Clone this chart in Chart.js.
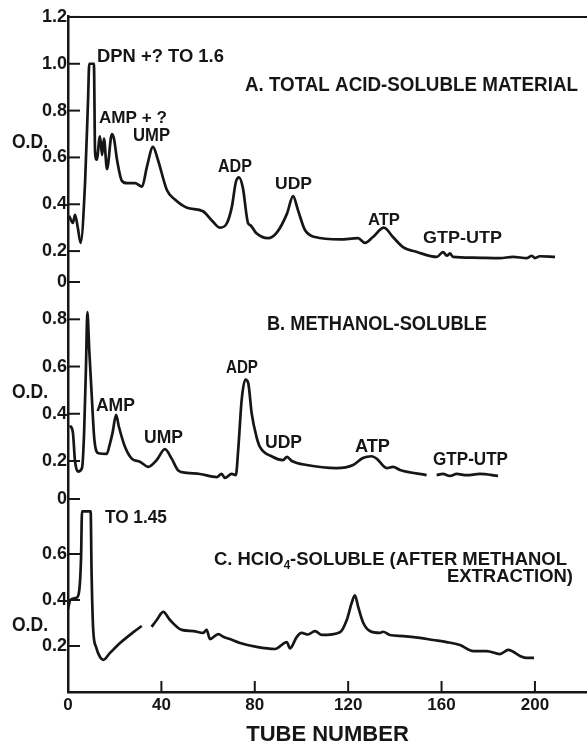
<!DOCTYPE html>
<html>
<head>
<meta charset="utf-8">
<title>Chromatogram - tube number</title>
<script src="https://cdn.jsdelivr.net/npm/chart.js@4.4.1/dist/chart.umd.min.js"></script>
<style>
  html, body { margin: 0; padding: 0; background: #fff; }
  canvas { display: block; }
</style>
</head>
<body>
<canvas id="chart" width="587" height="746"></canvas>
<script>
// Tick labels
const xTicks = [0, 40, 80, 120, 160, 200];
const yTicksA = ['0', '0.2', '0.4', '0.6', '0.8', '1.0', '1.2'];
const yTicksB = ['0', '0.2', '0.4', '0.6', '0.8'];
const yTicksC = ['0.2', '0.4', '0.6'];

// A. Total acid-soluble material (O.D. per tube, peak cut at 1.0 on the drawing)
const tubeA = [0.5, 2.1, 3.0, 4.2, 5.4, 7.3, 8.6, 9.1, 11.1, 11.6, 12.3, 13.7, 14.6, 15.4, 16.7, 18.8, 19.7,
  21.0, 23.1, 25.3, 28.7, 31.7, 33.8, 36.4, 38.5, 42.4, 45.8, 51.0, 57.8, 61.7, 65.1, 68.1, 70.2, 71.9,
  73.2, 74.9, 77.1, 78.2, 80.6, 85.7, 89.5, 93.8, 96.4, 98.5, 101.5, 105.8, 116.5, 124.2, 127.2, 130.6,
  135.3, 139.2, 143.5, 149.5, 158.0, 160.6, 162.3, 163.6, 164.9, 173.4, 185.0, 190.6, 196.6, 198.7,
  200.0, 202.1, 208.6];
const odA = [0.35, 0.32, 0.355, 0.30, 0.235, 0.49, 0.85, 1.0, 1.0, 0.62, 0.59, 0.69, 0.61, 0.68, 0.55, 0.70, 0.68,
  0.59, 0.50, 0.49, 0.49, 0.475, 0.56, 0.645, 0.59, 0.46, 0.42, 0.385, 0.37, 0.33, 0.30, 0.32, 0.39, 0.495,
  0.515, 0.47, 0.32, 0.31, 0.277, 0.255, 0.28, 0.36, 0.435, 0.375, 0.29, 0.26, 0.25, 0.255, 0.235, 0.26,
  0.30, 0.26, 0.217, 0.196, 0.175, 0.196, 0.18, 0.19, 0.175, 0.172, 0.17, 0.175, 0.17, 0.18,
  0.17, 0.178, 0.175];

// B. Methanol-soluble (null = break in the trace)
const tubeB = [0.9, 2.1, 3.0, 4.3, 6.0, 6.9, 7.7, 8.3, 9.1, 10.1, 11.3, 13.0, 16.6, 18.0, 19.1, 20.6, 21.8,
  24.4, 27.3, 30.8, 34.4, 38.0, 41.5, 44.4, 47.2, 50.8, 56.5, 63.7, 65.8, 67.2, 70.1, 71.9, 72.9, 74.4,
  76.0, 77.2, 78.7, 80.8, 82.2, 87.8, 92.1, 93.8, 95.9, 102.2, 115.1, 122.1, 126.3, 130.1, 132.2, 136.5,
  139.2, 142.2, 153.6, 155.7, 157.9, 160.6, 163.6, 166.5, 170.8, 176.4, 184.2];
const odB = [0.35, 0.32, 0.20, 0.155, 0.17, 0.32, 0.60, 0.83, 0.67, 0.49, 0.29, 0.233, 0.23, 0.275, 0.32, 0.395, 0.345,
  0.26, 0.21, 0.197, 0.175, 0.204, 0.25, 0.21, 0.16, 0.15, 0.145, 0.132, 0.145, 0.128, 0.145, 0.14, 0.247, 0.46,
  0.545, 0.53, 0.40, 0.30, 0.26, 0.217, 0.204, 0.217, 0.20, 0.183, 0.17, 0.183, 0.213, 0.22, 0.21, 0.17,
  0.175, 0.162, 0.14, null, 0.14, 0.145, 0.137, 0.145, 0.14, 0.145, 0.137];

// C. HClO4-soluble after methanol extraction (peak cut, "to 1.45")
const tubeC = [0, 1.0, 3.7, 4.8, 5.6, 6.0, 9.7, 10.1, 10.8, 12.0, 13.7, 15.1, 18.0, 22.3, 28.0, 31.6, 33.7,
  35.8, 38.0, 40.8, 43.7, 48.7, 53.7, 57.9, 59.4, 60.8, 64.4, 66.5, 69.4, 73.7, 80.8, 88.7, 93.7, 95.1,
  98.0, 100.1, 102.8, 105.8, 108.7, 116.5, 119.4, 121.5, 122.9, 124.3, 126.5, 129.3, 133.6, 134.9, 137.9,
  143.6, 150.7, 156.4, 162.2, 167.9, 173.6, 179.3, 185.0, 188.6, 193.6, 196.4, 199.6];
const odC = [0.36, 0.40, 0.41, 0.44, 0.587, 0.785, 0.785, 0.517, 0.27, 0.196, 0.152, 0.14, 0.17, 0.213, 0.26, 0.287, null,
  0.283, 0.313, 0.348, 0.313, 0.27, 0.265, 0.257, 0.27, 0.23, 0.252, 0.24, 0.23, 0.213, 0.196, 0.187, 0.217, 0.19,
  0.24, 0.257, 0.25, 0.265, 0.248, 0.26, 0.313, 0.387, 0.42, 0.37, 0.30, 0.265, 0.257, 0.262, 0.248,
  0.243, 0.235, 0.226, 0.217, 0.204, 0.178, 0.178, 0.165, 0.183, 0.157, 0.148, 0.148];

const INK = '#161616';
const FONT = '"Liberation Sans", Arial, sans-serif';

// peak names and panel titles, placed in data units of their own panel
const notes = [
  { axis: 'yA', x: 39.6, y: 1.029, w: 127, size: 19, runs: ['DPN +? TO 1.6'] },
  { axis: 'yA', x: 147.1, y: 0.909, w: 333, size: 20, runs: ['A. TOTAL ACID-SOLUBLE MATERIAL'] },
  { axis: 'yA', x: 27.8, y: 0.768, w: 68, size: 17, runs: ['AMP + ?'] },
  { axis: 'yA', x: 35.8, y: 0.691, w: 37, size: 18, runs: ['UMP'] },
  { axis: 'yA', x: 71.5, y: 0.559, w: 34, size: 18, runs: ['ADP'] },
  { axis: 'yA', x: 96.6, y: 0.486, w: 37, size: 17, runs: ['UDP'] },
  { axis: 'yA', x: 135.3, y: 0.332, w: 32, size: 17, runs: ['ATP'] },
  { axis: 'yA', x: 169.0, y: 0.256, w: 79, size: 17, runs: ['GTP-UTP'] },
  { axis: 'yB', x: 132.3, y: 0.776, w: 220, size: 20, runs: ['B. METHANOL-SOLUBLE'] },
  { axis: 'yB', x: 74.5, y: 0.594, w: 32, size: 18, runs: ['ADP'] },
  { axis: 'yB', x: 20.3, y: 0.433, w: 39, size: 18, runs: ['AMP'] },
  { axis: 'yB', x: 40.9, y: 0.297, w: 39, size: 18, runs: ['UMP'] },
  { axis: 'yB', x: 92.3, y: 0.276, w: 37, size: 18, runs: ['UDP'] },
  { axis: 'yB', x: 130.4, y: 0.259, w: 35, size: 18, runs: ['ATP'] },
  { axis: 'yB', x: 172.4, y: 0.204, w: 75, size: 18, runs: ['GTP-UTP'] },
  { axis: 'yC', x: 29.1, y: 0.757, w: 62, size: 18, runs: ['TO 1.45'] },
  { axis: 'yC', x: 138.1, y: 0.574, w: 353, size: 19, runs: ['C. HClO', ['4'], '-SOLUBLE (AFTER METHANOL'] },
  { axis: 'yC', x: 189.3, y: 0.500, w: 126, size: 19, runs: ['EXTRACTION)'] }
];
// horizontal "O.D." labels, one per panel
const odTitles = [{ axis: 'yA', y: 0.666 }, { axis: 'yB', y: 0.492 }, { axis: 'yC', y: 0.291 }];

function points(tubes, od) {
  return tubes.map((t, i) => ({ x: t, y: od[i] }));
}

function curve(label, tubes, od, axis) {
  return {
    label: label,
    data: points(tubes, od),
    yAxisID: axis,
    borderColor: INK,
    borderWidth: 2.7,
    pointRadius: 0,
    fill: false,
    spanGaps: false,
    cubicInterpolationMode: 'monotone'
  };
}

// one panel axis; the "0" label sits on the lower edge of its panel
function yAxis(labels, min, max, weight, stackWeight, topLine) {
  return {
    type: 'linear',
    position: 'left',
    stack: 'od',
    stackWeight: stackWeight,
    weight: weight,
    min: min,
    max: max,
    afterFit: s => { s.width = 68; },
    afterBuildTicks: s => {
      s.ticks = labels.map(l => ({ value: l === '0' ? s.min : parseFloat(l) }));
    },
    ticks: {
      autoSkip: false,
      padding: 1,
      color: INK,
      font: { family: FONT, size: 18, weight: 'bold' },
      callback: function (v) { return v === this.min ? '0' : v.toFixed(1); }
    },
    grid: {
      drawTicks: false,
      drawOnChartArea: !!topLine,
      lineWidth: 2,
      color: c => (topLine && c.tick && c.tick.value === topLine) ? INK : 'rgba(0,0,0,0)'
    },
    border: { display: true, color: INK, width: 2.5 }
  };
}

// draw a line of text squeezed to the width it has on the original
function drawRuns(ctx, runs, cx, cy, w, size) {
  const main = 'bold ' + size + 'px ' + FONT;
  const sub = 'bold ' + Math.round(size * 0.65) + 'px ' + FONT;
  let natural = 0;
  runs.forEach(r => {
    ctx.font = Array.isArray(r) ? sub : main;
    natural += ctx.measureText(Array.isArray(r) ? r[0] : r).width;
  });
  ctx.save();
  ctx.translate(cx - w / 2, cy);
  ctx.scale(w / natural, 1);
  let x = 0;
  runs.forEach(r => {
    const isSub = Array.isArray(r);
    const t = isSub ? r[0] : r;
    ctx.font = isSub ? sub : main;
    ctx.fillText(t, x, isSub ? size * 0.3 : 0);
    x += ctx.measureText(t).width;
  });
  ctx.restore();
}

const figurePlugin = {
  id: 'figure',
  afterDraw(chart) {
    const ctx = chart.ctx;
    const sx = chart.scales.x;
    ctx.save();
    ctx.strokeStyle = INK;
    ctx.fillStyle = INK;
    ctx.lineWidth = 2;

    // tick marks point into the plot
    ['yA', 'yB', 'yC'].forEach(id => {
      const s = chart.scales[id];
      s.ticks.forEach(t => {
        const y = s.getPixelForValue(t.value);
        ctx.beginPath(); ctx.moveTo(s.right, y); ctx.lineTo(s.right + 12, y); ctx.stroke();
      });
    });
    sx.ticks.forEach(t => {
      if (t.value === 0) return;
      const x = sx.getPixelForValue(t.value);
      ctx.beginPath(); ctx.moveTo(x, sx.top); ctx.lineTo(x, sx.top - 11); ctx.stroke();
    });

    ctx.textAlign = 'left';
    ctx.textBaseline = 'middle';
    notes.forEach(n => {
      const s = chart.scales[n.axis];
      drawRuns(ctx, n.runs, sx.getPixelForValue(n.x), s.getPixelForValue(n.y), n.w, n.size);
    });
    odTitles.forEach(o => {
      const s = chart.scales[o.axis];
      drawRuns(ctx, ['O.D.'], s.left + 30, s.getPixelForValue(o.y), 36, 21);
    });
    ctx.restore();
  }
};

new Chart(document.getElementById('chart'), {
  type: 'line',
  data: {
    datasets: [
      curve('A. Total acid-soluble material', tubeA, odA, 'yA'),
      curve('B. Methanol-soluble', tubeB, odB, 'yB'),
      curve('C. HClO4-soluble', tubeC, odC, 'yC')
    ]
  },
  options: {
    responsive: false,
    devicePixelRatio: 1,
    animation: false,
    layout: { padding: { top: 16, right: 0, bottom: 0, left: 0 } },
    plugins: { legend: { display: false }, tooltip: { enabled: false } },
    scales: {
      x: {
        type: 'linear',
        position: 'bottom',
        min: 0,
        max: 222.3,
        afterFit: s => { s.height = 54; },
        afterBuildTicks: s => { s.ticks = xTicks.map(v => ({ value: v })); },
        ticks: { padding: 3, color: INK, font: { family: FONT, size: 17, weight: 'bold' } },
        grid: { drawTicks: false, drawOnChartArea: false },
        border: { display: true, color: INK, width: 2.5 },
        title: {
          display: true,
          text: 'TUBE NUMBER',
          color: INK,
          padding: 0,
          font: { family: FONT, size: 22, weight: 'bold', lineHeight: 1.0 }
        }
      },
      yA: yAxis(yTicksA, 0.068, 1.204, 3, 266, 1.2),
      yB: yAxis(yTicksB, 0.039, 0.958, 2, 217),
      yC: yAxis(yTicksC, 0, 0.839, 1, 193)
    }
  },
  plugins: [figurePlugin]
});
</script>
</body>
</html>
